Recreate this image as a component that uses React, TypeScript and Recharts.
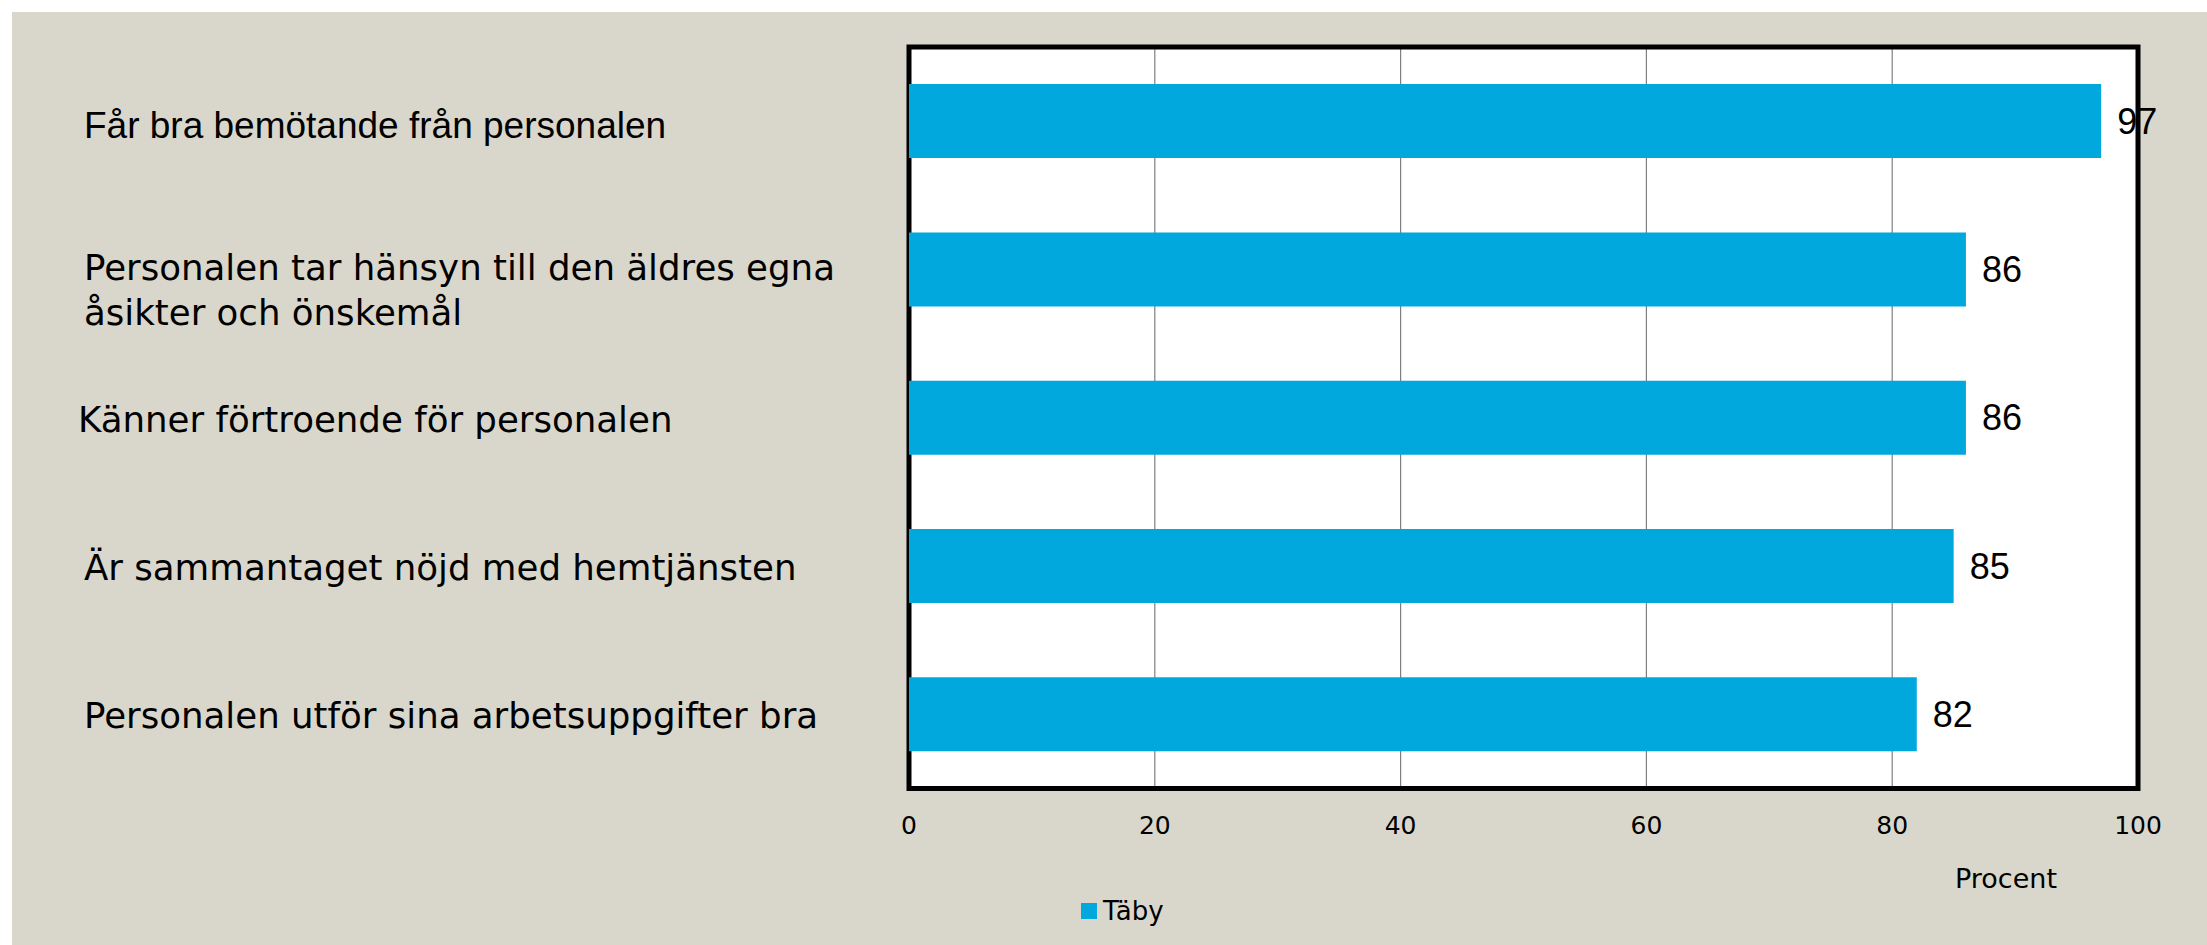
import { Bar, BarChart, CartesianGrid, LabelList, Legend, ReferenceArea, XAxis, YAxis, Label } from 'recharts'

const categories = [
  'Får bra bemötande från personalen',
  'Personalen tar hänsyn till den äldres egna\nåsikter och önskemål',
  'Känner förtroende för personalen',
  'Är sammantaget nöjd med hemtjänsten',
  'Personalen utför sina arbetsuppgifter bra',
]
const tabyValues = [97, 86, 86, 85, 82]
const xTicks = [0, 20, 40, 60, 80, 100]
const seriesName = 'Täby'
const axisTitle = 'Procent'

const data = categories.map((label, i) => ({ label, taby: tabyValues[i] }))

const BAR_COLOR = '#00A8DE'
const BG = '#D9D7CB'
const GOTHIC = '"DejaVu Sans", sans-serif'
const ARIAL = '"Liberation Sans", Arial, sans-serif'

function CategoryTick({ x, y, payload, index }: any) {
  const lines = String(payload.value).split('\n')
  // the first label uses a different font in the original slide
  const first = index === 0
  const base = first ? 17 : 14 - (lines.length - 1) * 3.3
  const left = x - 825 - (index === 2 ? 6 : 0)
  return (
    <text
      x={left}
      y={y + base}
      textAnchor="start"
      fontFamily={first ? ARIAL : GOTHIC}
      fontSize={first ? 37 : 35.6}
      fill="#000"
    >
      {lines.map((line, i) => (
        <tspan key={i} x={left} dy={i === 0 ? 0 : 45}>
          {line}
        </tspan>
      ))}
    </text>
  )
}

function ValueTick({ x, y, payload }: any) {
  return (
    <text x={x} y={y + 45.5} textAnchor="middle" fontFamily={GOTHIC} fontSize={25} fill="#000">
      {payload.value}
    </text>
  )
}

function AxisTitle({ viewBox }: any) {
  if (!viewBox) return null
  return (
    <text
      x={viewBox.x + viewBox.width - 81}
      y={viewBox.y + 99.5}
      textAnchor="end"
      fontFamily={GOTHIC}
      fontSize={27}
      fill="#000"
    >
      {axisTitle}
    </text>
  )
}

function LegendContent() {
  return (
    <svg width={160} height={44} style={{ overflow: 'visible', display: 'block' }}>
      <rect x={0} y={2} width={16} height={16} fill={BAR_COLOR} />
      <text x={22} y={19} fontFamily={GOTHIC} fontSize={26} fill="#000">
        {seriesName}
      </text>
    </svg>
  )
}

export default function App() {
  return (
    <div style={{ position: 'absolute', left: 0, top: 0, width: 2207, height: 945, background: '#fff' }}>
      <div style={{ position: 'absolute', left: 12, top: 12, width: 2195, height: 933, background: BG }}>
        <BarChart
          width={2195}
          height={933}
          data={data}
          layout="vertical"
          barCategoryGap="25%"
          margin={{ top: 35, right: 69, bottom: 96, left: 0 }}
        >
          <CartesianGrid horizontal={false} stroke="#7f7f7f" strokeWidth={1.2} fill="#fff" />
          <XAxis
            type="number"
            domain={[0, 100]}
            ticks={xTicks}
            axisLine={false}
            tickLine={false}
            tickSize={0}
            tickMargin={0}
            height={60.5}
            tick={<ValueTick />}
            interval={0}
          >
            <Label content={<AxisTitle />} />
          </XAxis>
          <YAxis
            type="category"
            dataKey="label"
            width={897}
            axisLine={false}
            tickLine={false}
            tickSize={0}
            tickMargin={0}
            tick={<CategoryTick />}
            interval={0}
          />
          <Bar dataKey="taby" name={seriesName} fill={BAR_COLOR} isAnimationActive={false}>
            <LabelList
              dataKey="taby"
              position="right"
              offset={16}
              fontFamily={ARIAL}
              fontSize={36}
              fill="#000"
            />
          </Bar>
          <ReferenceArea x1={0} x2={100} fill="none" stroke="#000" strokeWidth={5} ifOverflow="visible" />
          <Legend
            layout="horizontal"
            verticalAlign="middle"
            align="center"
            content={<LegendContent />}
            wrapperStyle={{ left: 1069, top: 889, width: 160, height: 44 }}
          />
        </BarChart>
      </div>
    </div>
  )
}
